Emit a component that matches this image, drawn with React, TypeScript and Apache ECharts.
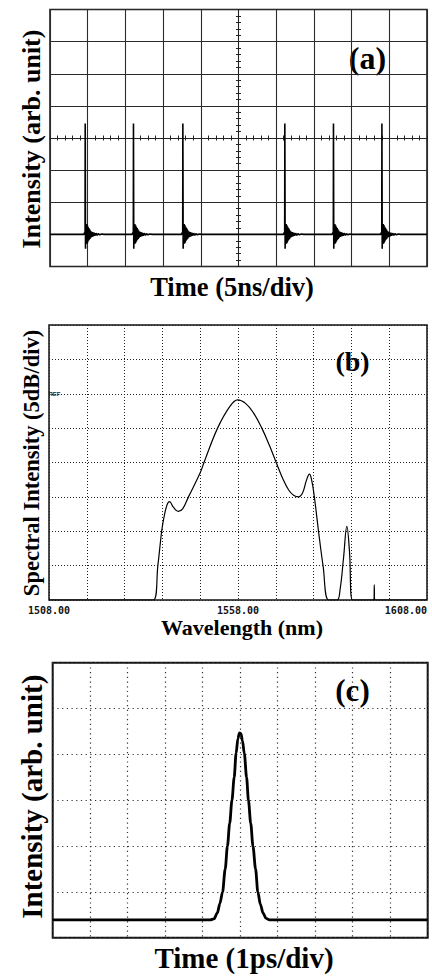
import React, { useEffect, useRef } from "react";
import * as echarts from "echarts";

// ---------- (a) oscilloscope pulse train (units: divisions, centre = 0) ----------
const PULSE_TIMES_DIV = [-4.07, -2.79, -1.48, 1.225, 2.515, 3.8];
const BASELINE_A_DIV = -3;
// pulse shape: offset after the pulse (div) and height above baseline (div)
const PULSE_SHAPE_DX = [
  -0.03, -0.012, 0, 0.004, 0.012, 0.02, 0.03, 0.04, 0.05, 0.06, 0.07, 0.08, 0.09, 0.1, 0.11, 0.12,
  0.13, 0.14, 0.155, 0.17, 0.185, 0.2, 0.22, 0.24, 0.26, 0.29, 0.32, 0.35, 0.39, 0.44, 0.5,
];
const PULSE_SHAPE_DY = [
  0, 0.06, 0, 3.45, -0.45, 0.3, -0.3, 0.32, -0.28, 0.28, -0.25, 0.24, -0.2, 0.2, -0.17, 0.16,
  -0.14, 0.12, -0.1, 0.09, -0.08, 0.07, -0.06, 0.05, -0.04, 0.035, -0.03, 0.02, -0.015, 0.01, 0,
];

// ---------- (b) optical spectrum ----------
const START_NM = 1508;
const WAVELENGTH_NM = [
  1508, 1535.6, 1536.8, 1537.8, 1538.3, 1539.2, 1539.9, 1540.9, 1542.2, 1543.4, 1544.9, 1548.0,
  1549.0, 1552.6, 1555.9, 1557.9, 1560.0, 1562.0, 1564.3, 1566.3, 1568.1, 1569.8, 1571.4, 1572.8,
  1574.0, 1575.1, 1576.1, 1576.9, 1577.5, 1578.2, 1579.3, 1580.5, 1582.0, 1584.2, 1585.0, 1585.9,
  1586.8, 1587.5, 1588.3, 1593.95, 1594.05, 1594.15, 1608,
];
const POWER_DB = [
  -40, -40, -35, -30, -28.3, -26.2, -25.7, -26.5, -27.1, -26.7, -25, -21.5,
  -20, -15, -11.8, -10.9, -11.4, -12.7, -15, -17.5, -20, -22.3, -24, -24.8,
  -25.0, -24.4, -22.6, -21.7, -22.6, -25, -30, -35, -40, -40, -38.5, -34,
  -29.3, -33, -40, -40, -37.8, -40, -40,
];
const B_TICK_LABELS = ["1508.00", "1558.00", "1608.00"];

// ---------- (c) autocorrelation trace (units: divisions) ----------
const AC_DELAY_DIV = [
  0, 4.2, 4.3, 4.39, 4.46, 4.53, 4.6, 4.66, 4.72, 4.78, 4.84, 4.89, 4.94, 4.98, 5.02, 5.06,
  5.11, 5.17, 5.22, 5.28, 5.34, 5.41, 5.47, 5.54, 5.61, 5.69, 5.78, 10,
];
const AC_INTENSITY_DIV = [
  0.39, 0.39, 0.41, 0.54, 0.75, 1.0, 1.5, 2.0, 2.5, 3.0, 3.5, 4.02, 4.35, 4.47, 4.45, 4.3,
  4.02, 3.5, 3.0, 2.5, 2.0, 1.5, 1.0, 0.72, 0.54, 0.42, 0.39, 0.39,
];

const SERIF = '"Liberation Serif", "Times New Roman", serif';

function buildPulseTrain(): number[][] {
  const pts: number[][] = [[-5, BASELINE_A_DIV]];
  PULSE_TIMES_DIV.forEach((t) => {
    PULSE_SHAPE_DX.forEach((dx, i) => pts.push([t + dx, BASELINE_A_DIV + PULSE_SHAPE_DY[i]]));
  });
  pts.push([5, BASELINE_A_DIV]);
  return pts;
}

function label(text: string, x: number, y: number, size: number, rotate = false) {
  return {
    type: "text",
    x,
    y,
    rotation: rotate ? Math.PI / 2 : 0,
    style: {
      text,
      font: `bold ${size}px ${SERIF}`,
      fill: "#000",
      textAlign: "center",
      textVerticalAlign: "middle",
    },
  };
}

export default function App() {
  const ref = useRef<HTMLDivElement>(null);
  useEffect(() => {
    if (!ref.current) return;
    const chart = echarts.init(ref.current, undefined, { renderer: "svg" });
    const tickStyle = { color: "#222", width: 1 };
    const centerAxisX = (pos: string, split: boolean) => ({
      gridIndex: 0,
      type: "value",
      min: -5,
      max: 5,
      interval: 1,
      position: pos,
      axisLine: { show: true, onZero: true, onZeroAxisIndex: 0, lineStyle: { color: "#222", width: 1 } },
      axisTick: { show: true, length: 2.5, lineStyle: tickStyle },
      minorTick: { show: true, splitNumber: 5, length: 2.5, lineStyle: tickStyle },
      axisLabel: { show: false },
      splitLine: { show: split, lineStyle: { color: "#2b2b2b", width: 1.1 } },
    });
    const centerAxisY = (pos: string, split: boolean) => ({
      gridIndex: 0,
      type: "value",
      min: -4,
      max: 4,
      interval: 1,
      position: pos,
      axisLine: { show: true, onZero: true, onZeroAxisIndex: 0, lineStyle: { color: "#222", width: 1 } },
      axisTick: { show: true, length: 2.5, lineStyle: tickStyle },
      minorTick: { show: true, splitNumber: 5, length: 2.5, lineStyle: tickStyle },
      axisLabel: { show: false },
      splitLine: { show: split, lineStyle: { color: "#2b2b2b", width: 1.1 } },
    });

    const option: any = {
      animation: false,
      backgroundColor: "#fff",
      grid: [
        { left: 50, top: 9.5, width: 377, height: 257, show: true, borderColor: "#111", borderWidth: 1.5 },
        { left: 49, top: 325, width: 378, height: 275, show: true, borderColor: "#111", borderWidth: 1.5 },
        { left: 52.7, top: 662.7, width: 375, height: 275, show: true, borderColor: "#111", borderWidth: 2 },
      ],
      xAxis: [
        centerAxisX("bottom", true),
        centerAxisX("top", false),
        {
          gridIndex: 1,
          type: "value",
          min: 0,
          max: 100,
          interval: 10,
          axisLine: { show: false },
          axisTick: { show: false },
          axisLabel: {
            show: true,
            formatter: (v: number) => (v % 50 === 0 ? B_TICK_LABELS[v / 50] : ""),
            fontFamily: '"DejaVu Sans Mono", monospace',
            fontWeight: "bold",
            fontSize: 10,
            color: "#111",
            margin: 5,
            showMinLabel: true,
            showMaxLabel: true,
            alignMinLabel: "center",
            alignMaxLabel: "right",
          },
          splitLine: { show: true, lineStyle: { color: "#222", width: 1, type: [1, 2] } },
        },
        {
          gridIndex: 2,
          type: "value",
          min: 0,
          max: 10,
          interval: 1,
          axisLine: { show: false },
          axisTick: { show: false },
          axisLabel: { show: false },
          splitLine: { show: true, lineStyle: { color: "#333", width: 1.2, type: [1.2, 3.5] } },
        },
      ],
      yAxis: [
        centerAxisY("left", true),
        centerAxisY("right", false),
        {
          gridIndex: 1,
          type: "value",
          min: -40,
          max: 0,
          interval: 5,
          axisLine: { show: false },
          axisTick: { show: false },
          axisLabel: { show: false },
          splitLine: { show: true, lineStyle: { color: "#222", width: 1, type: [1, 2] } },
        },
        {
          gridIndex: 2,
          type: "value",
          min: 0,
          max: 6,
          interval: 1,
          axisLine: { show: false },
          axisTick: { show: false },
          axisLabel: { show: false },
          splitLine: { show: true, lineStyle: { color: "#333", width: 1.2, type: [1.2, 3.5] } },
        },
      ],
      series: [
        {
          type: "line",
          xAxisIndex: 0,
          yAxisIndex: 0,
          data: buildPulseTrain(),
          showSymbol: false,
          lineStyle: { color: "#000", width: 1.6 },
          z: 5,
        },
        {
          type: "line",
          xAxisIndex: 2,
          yAxisIndex: 2,
          data: WAVELENGTH_NM.map((w, i) => [w - START_NM, POWER_DB[i]]),
          showSymbol: false,
          smooth: 0.4,
          lineStyle: { color: "#000", width: 1.2 },
          z: 5,
        },
        {
          type: "line",
          xAxisIndex: 3,
          yAxisIndex: 3,
          data: AC_DELAY_DIV.map((t, i) => [t, AC_INTENSITY_DIV[i]]),
          showSymbol: false,
          smooth: 0.3,
          smoothMonotone: "x",
          lineStyle: { color: "#000", width: 2.8 },
          z: 5,
        },
      ],
      graphic: [
        label("Intensity (arb. unit)", 31, 139, 26, true),
        label("Time (5ns/div)", 232, 287, 26.5),
        label("(a)", 367.5, 57.5, 32),
        label("Spectral Intensity (5dB/div)", 31.7, 463, 22.5, true),
        label("Wavelength (nm)", 242, 627.5, 22),
        label("(b)", 352.5, 361.7, 28),
        {
          type: "text",
          x: 48.5,
          y: 394,
          style: {
            text: "REF",
            font: 'bold 6px "Liberation Sans", sans-serif',
            fill: "#222",
            textAlign: "left",
            textVerticalAlign: "middle",
          },
        },
        label("Intensity (arb. unit)", 31.7, 796.7, 29, true),
        label("Time (1ps/div)", 244, 957.8, 29),
        label("(c)", 352.5, 690.8, 31),
      ],
    };
    chart.setOption(option);
    return () => chart.dispose();
  }, []);
  return (
    <div
      ref={ref}
      style={{ position: "fixed", left: 0, top: 0, width: 432, height: 977, background: "#fff" }}
    />
  );
}
